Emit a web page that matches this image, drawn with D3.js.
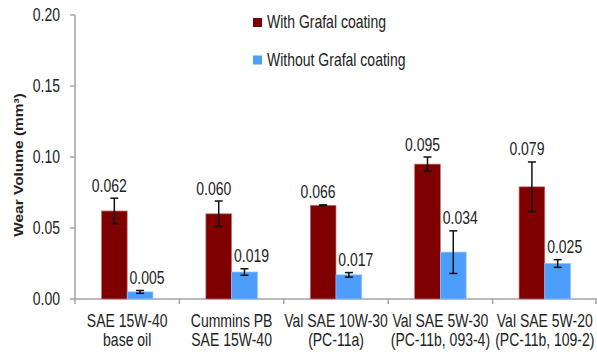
<!DOCTYPE html>
<html>
<head>
<meta charset="utf-8">
<script src="https://cdn.jsdelivr.net/npm/d3@7"></script>
<style>
  body { margin: 0; background: #fff; }
  text { font-family: "Liberation Sans", Arial, sans-serif; fill: #222; }
</style>
</head>
<body>
<div id="chart"></div>
<script>
// Chart data
const categories = [
    ["SAE 15W-40", "base oil"],
    ["Cummins PB", "SAE 15W-40"],
    ["Val SAE 10W-30", "(PC-11a)"],
    ["Val SAE 5W-30", "(PC-11b, 093-4)"],
    ["Val SAE 5W-20", "(PC-11b, 109-2)"]
];
const seriesNames = ["With Grafal coating", "Without Grafal coating"];
const withCoating = [0.062, 0.060, 0.066, 0.095, 0.079];
const withCoatingErr = [0.009, 0.009, 0.0003, 0.005, 0.0175];
const withoutCoating = [0.005, 0.019, 0.017, 0.033, 0.025];
const withoutCoatingErr = [0.001, 0.0023, 0.0016, 0.015, 0.0027];
const valueLabels = [
    ["0.062", "0.060", "0.066", "0.095", "0.079"],
    ["0.005", "0.019", "0.017", "0.034", "0.025"]
];
const yTicks = [0, 0.05, 0.10, 0.15, 0.20];

const colors = ["#7f0000", "#4d9dfd"];
const stretch = 1.27; // source picture is stretched vertically

const width = 597, height = 352;
const svg = d3.select("#chart").append("svg")
    .attr("width", width)
    .attr("height", height);

const x0 = d3.scaleBand()
    .domain(d3.range(categories.length))
    .range([75, 597]);

const x1 = d3.scaleBand()
    .domain([0, 1])
    .range([0, 51.5]);
const groupOffset = (x0.bandwidth() - 51.5) / 2;

const y = d3.scaleLinear()
    .domain([0, 0.2])
    .range([299, 15]);

// stretched text helper
function sText(g, xPos, yPos, str, size, anchor, weight, rotate, st) {
    return g.append("text")
        .attr("transform", `translate(${xPos},${yPos}) scale(1,${st || stretch})` + (rotate ? " rotate(-90)" : ""))
        .attr("text-anchor", anchor)
        .style("font-size", size + "px")
        .style("font-weight", weight || "normal")
        .text(str);
}

// Axes
const axisColor = "#a3a3a3";
svg.append("line")
    .attr("x1", 75).attr("x2", 75)
    .attr("y1", y(0.2)).attr("y2", y(0))
    .attr("stroke", axisColor).attr("stroke-width", 1.5);
svg.append("line")
    .attr("x1", 75).attr("x2", 597)
    .attr("y1", y(0)).attr("y2", y(0))
    .attr("stroke", axisColor).attr("stroke-width", 1.5);

yTicks.forEach(t => {
    svg.append("line")
        .attr("x1", 70).attr("x2", 75)
        .attr("y1", y(t)).attr("y2", y(t))
        .attr("stroke", axisColor).attr("stroke-width", 1.5);
    sText(svg, 60, y(t) + 6.4, t.toFixed(2), 14, "end");
});

// category separators
d3.range(categories.length + 1).forEach(i => {
    let xp = Math.min(75 + i * x0.step(), 596);
    svg.append("line")
        .attr("x1", xp).attr("x2", xp)
        .attr("y1", y(0)).attr("y2", y(0) + 5)
        .attr("stroke", axisColor).attr("stroke-width", 1.5);
});

// Category labels
categories.forEach((c, i) => {
    let cx = x0(i) + x0.bandwidth() / 2;
    sText(svg, cx, 327, c[0], 14, "middle");
    sText(svg, cx, 346, c[1], 14, "middle");
});

// Y title
sText(svg, 23, 165, "Wear Volume (mm\u00B3)", 13, "middle", "bold", true, 1.19);

// Bars
const series = [
    { vals: withCoating, errs: withCoatingErr },
    { vals: withoutCoating, errs: withoutCoatingErr }
];

series.forEach((s, si) => {
    const g = svg.append("g");
    s.vals.forEach((v, i) => {
        let bx = x0(i) + groupOffset + x1(si);
        let bw = x1.bandwidth();
        g.append("rect")
            .attr("x", bx)
            .attr("y", y(v))
            .attr("width", bw)
            .attr("height", y(0) - y(v))
            .attr("fill", colors[si])
            .attr("stroke", si === 0 ? "#c87a7a" : "#8fc1ff")
            .attr("stroke-width", 0.7);

        // error bar
        let cx = bx + bw / 2;
        let e = s.errs[i];
        g.append("line")
            .attr("x1", cx).attr("x2", cx)
            .attr("y1", y(v + e)).attr("y2", y(v - e))
            .attr("stroke", "#111").attr("stroke-width", 1.5);
        [v + e, v - e].forEach(ev => {
            g.append("line")
                .attr("x1", cx - 4).attr("x2", cx + 4)
                .attr("y1", y(ev)).attr("y2", y(ev))
                .attr("stroke", "#111").attr("stroke-width", 1.5);
        });

        // value label
        let lx = cx + (si === 0 ? -5 : 7);
        sText(g, lx, y(v + e) - 6.5, valueLabels[si][i], 14, "middle");
    });
});

// Legend
seriesNames.forEach((name, i) => {
    let ly = 18 + i * 37.5;
    svg.append("rect")
        .attr("x", 253).attr("y", ly)
        .attr("width", 9).attr("height", 9)
        .attr("fill", colors[i]);
    sText(svg, 267, ly + 10.3, name, 14, "start");
});
</script>
</body>
</html>
